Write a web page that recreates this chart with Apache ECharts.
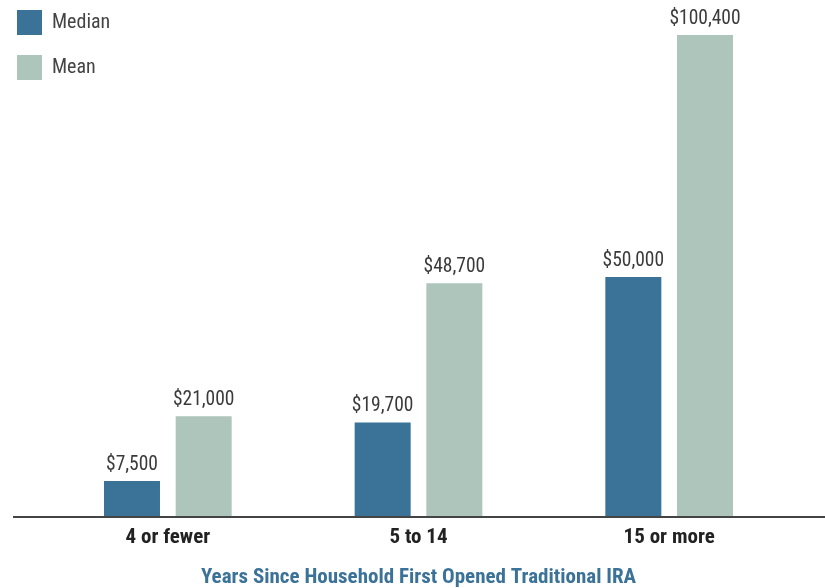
<!DOCTYPE html>
<html>
<head>
<meta charset="utf-8">
<script src="https://cdn.jsdelivr.net/npm/echarts@6/dist/echarts.min.js"></script>
<style>
	html, body { margin: 0; padding: 0; background: #fff; }
	#chart { width: 825px; height: 588px; }
</style>
</head>
<body>
<div id="chart"></div>
<script>
const categories = ["4 or fewer", "5 to 14", "15 or more"];
const medianValues = [7500, 19700, 50000];
const meanValues = [21000, 48700, 100400];
const axisTitle = "Years Since Household First Opened Traditional IRA";

const FONT = "'Liberation Sans Narrow', 'Roboto Condensed', 'Roboto', sans-serif";

const chart = echarts.init(document.getElementById("chart"));

function moneyLabel(p) {
	return "$" + p.value.toLocaleString("en-US");
}

let option = {
	color: ["#3b7298", "#aec5bb"],
	animation: false,
	legend: {
		orient: "vertical",
		left: 12,
		top: 5,
		itemWidth: 25,
		itemHeight: 25,
		itemGap: 20,
		icon: "rect",
		textStyle: { fontFamily: FONT, fontSize: 20, color: "#444", padding: [0, 0, 0, 5] },
		data: ["Median", "Mean"],
	},
	grid: {
		left: 42.5,
		right: 30.5,
		top: 35,
		bottom: 71,
		containLabel: false,
		outerBoundsMode: "none",
	},
	xAxis: {
		type: "category",
		data: categories,
		axisLine: { show: false },
		axisTick: { show: false },
		axisLabel: {
			margin: 10,
			fontFamily: FONT,
			fontWeight: "bold",
			fontSize: 21,
			color: "#222",
		},
		name: axisTitle,
		nameLocation: "middle",
		nameGap: 50,
		nameTextStyle: {
			fontFamily: FONT,
			fontWeight: "bold",
			fontSize: 21,
			color: "#3b7298",
		},
	},
	yAxis: {
		type: "value",
		min: 0,
		max: 100400,
		show: false,
		splitLine: { show: false },
	},
	series: [
		{
			name: "Median",
			type: "bar",
			data: medianValues,
			barWidth: 56,
			barGap: "28%",
			label: {
				show: true,
				position: "top",
				distance: 6,
				formatter: moneyLabel,
				fontFamily: FONT,
				fontSize: 19.5,
				color: "#3a3a3a",
			},
		},
		{
			name: "Mean",
			type: "bar",
			data: meanValues,
			barWidth: 56,
			barGap: "28%",
			label: {
				show: true,
				position: "top",
				distance: 6,
				formatter: moneyLabel,
				fontFamily: FONT,
				fontSize: 19.5,
				color: "#3a3a3a",
			},
		},
	],
	graphic: [
		{
			// baseline runs past the grid on both sides
			type: "line",
			shape: { x1: 13, y1: 517, x2: 825, y2: 517 },
			style: { stroke: "#444", lineWidth: 2 },
			z: 10,
		},
	],
};
chart.setOption(option, true);
window.addEventListener("resize", () => {
	chart.resize();
});
</script>
</body>
</html>
